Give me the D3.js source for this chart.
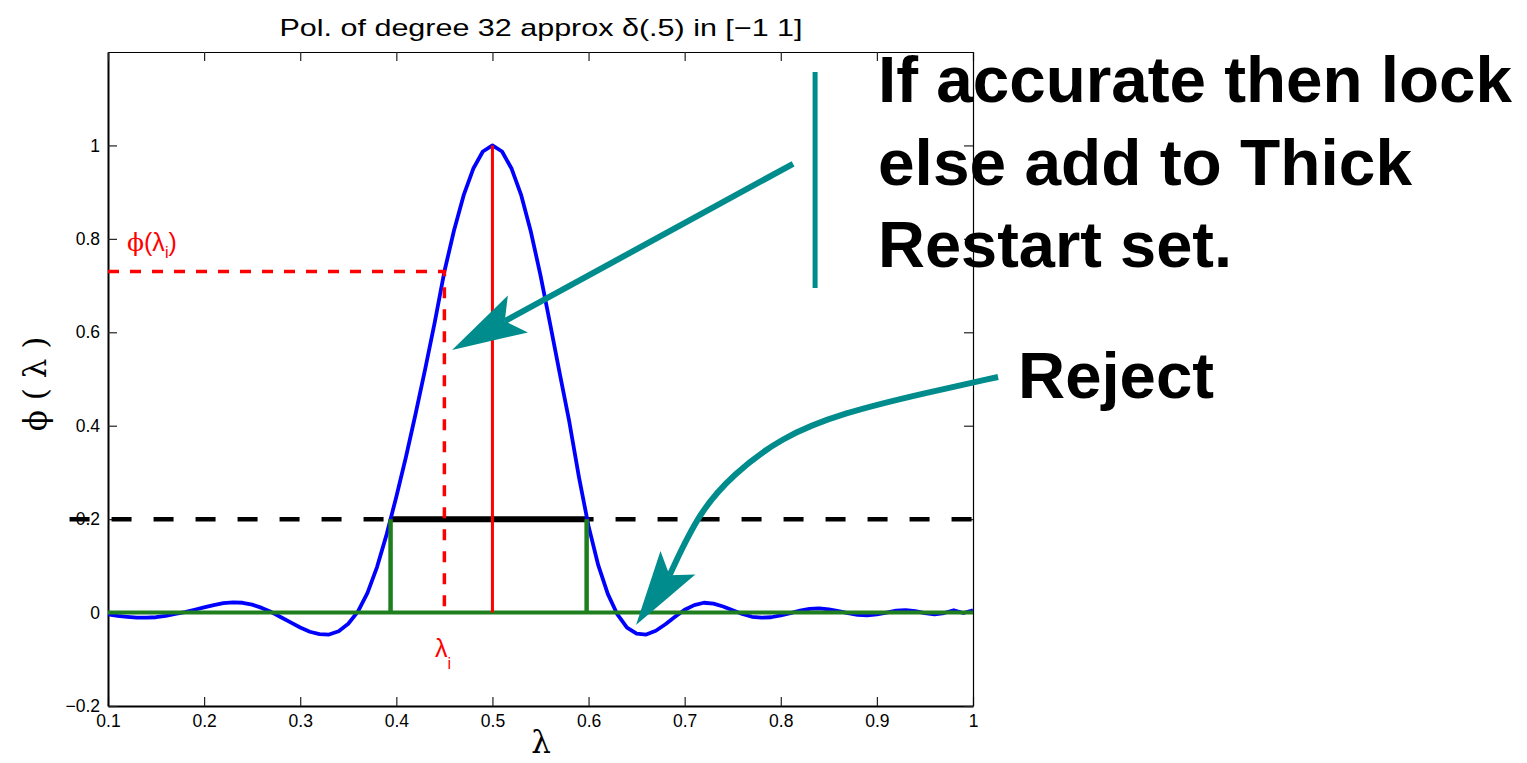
<!DOCTYPE html>
<html>
<head>
<meta charset="utf-8">
<script src="https://cdn.jsdelivr.net/npm/d3@7"></script>
<style>
  html, body { margin: 0; padding: 0; background: #fff; }
  svg { display: block; }
</style>
</head>
<body>
<svg id="chart" width="1527" height="763"></svg>
<script>
// Sample points of the degree-32 polynomial filter phi(lambda)
const lambdas = [0.10,0.11,0.12,0.13,0.14,0.15,0.16,0.17,0.18,0.19,
  0.20,0.21,0.22,0.23,0.24,0.25,0.26,0.27,0.28,0.29,
  0.30,0.31,0.32,0.33,0.34,0.35,0.36,0.37,0.38,0.39,
  0.40,0.41,0.42,0.43,0.44,0.45,0.46,0.47,0.48,0.49,
  0.50,0.51,0.52,0.53,0.54,0.55,0.56,0.57,0.58,0.59,
  0.60,0.61,0.62,0.63,0.64,0.65,0.66,0.67,0.68,0.69,
  0.70,0.71,0.72,0.73,0.74,0.75,0.76,0.77,0.78,0.79,
  0.80,0.81,0.82,0.83,0.84,0.85,0.86,0.87,0.88,0.89,
  0.90,0.91,0.92,0.93,0.94,0.95,0.96,0.97,0.98,0.99,1.00];
const phiValues = [-0.004,-0.007,-0.009,-0.011,-0.011,-0.010,-0.007,-0.003,0.001,0.006,
  0.011,0.016,0.020,0.022,0.021,0.017,0.010,0.001,-0.010,-0.021,
  -0.032,-0.041,-0.046,-0.047,-0.040,-0.024,0.002,0.042,0.098,0.168,
  0.248,0.333,0.425,0.521,0.622,0.730,0.818,0.893,0.950,0.987,
  1.000,0.987,0.950,0.893,0.815,0.722,0.618,0.512,0.408,0.290,
  0.185,0.102,0.040,-0.004,-0.032,-0.045,-0.047,-0.039,-0.025,-0.009,
  0.006,0.016,0.021,0.019,0.013,0.005,-0.003,-0.009,-0.011,-0.010,
  -0.006,-0.001,0.004,0.008,0.009,0.007,0.003,-0.001,-0.005,-0.006,
  -0.004,0.000,0.004,0.005,0.003,-0.001,-0.004,-0.001,0.005,-0.001,0.005];

// Threshold, interval edges, sample eigenvalue
const threshold = 0.2;
const thresholdSpan = [0.06, 1.0];
const intervalEdges = [0.394, 0.598];
const center = 0.5;
const centerPeak = 1.0;
const lambdaI = 0.45;
const phiLambdaI = 0.73;

// Axis ticks
const xTicks = [0.1,0.2,0.3,0.4,0.5,0.6,0.7,0.8,0.9,1];
const yTicks = [-0.2,0,0.2,0.4,0.6,0.8,1];

// Annotation texts
const noteLines = ["If accurate then lock", "else add to Thick", "Restart set."];
const rejectText = "Reject";

const svg = d3.select("#chart");
const x = d3.scaleLinear([0.1, 1], [108, 973]);
const y = d3.scaleLinear([-0.2, 1.2], [706, 52]);

const pts = lambdas.map((l, i) => [l, phiValues[i]]);
const line = d3.line().x(d => x(d[0])).y(d => y(d[1]));

// Axes with inward ticks
const fmt = d => d3.format("")(d);
const axisFont = "Liberation Sans, Arial, sans-serif";
const gB = svg.append("g").attr("transform", `translate(0,${y(-0.2)})`)
  .call(d3.axisBottom(x).tickValues(xTicks).tickFormat(fmt).tickSizeInner(-9).tickSizeOuter(0).tickPadding(9));
const gL = svg.append("g").attr("transform", `translate(${x(0.1)},0)`)
  .call(d3.axisLeft(y).tickValues(yTicks).tickFormat(fmt).tickSizeInner(-9).tickSizeOuter(0).tickPadding(8));
const gT = svg.append("g").attr("transform", `translate(0,${y(1.2)})`)
  .call(d3.axisTop(x).tickValues(xTicks).tickFormat("").tickSizeInner(-9).tickSizeOuter(0));
const gR = svg.append("g").attr("transform", `translate(${x(1)},0)`)
  .call(d3.axisRight(y).tickValues(yTicks).tickFormat("").tickSizeInner(-9).tickSizeOuter(0));
[gB, gL, gT, gR].forEach(g => {
  g.attr("font-size", null).attr("font-family", null);
  g.selectAll("text").attr("font-family", axisFont).attr("font-size", 17.5).attr("fill", "#000");
  g.selectAll(".tick line").attr("stroke", "#222").attr("stroke-width", 1.2);
});
gB.select(".domain").attr("stroke", "#000").attr("stroke-width", 2);
gL.select(".domain").attr("stroke", "#000").attr("stroke-width", 2);
gT.select(".domain").attr("stroke", "#000").attr("stroke-width", 1.2);
gR.select(".domain").attr("stroke", "#000").attr("stroke-width", 1.2);

// Title
svg.append("text").attr("x", 541).attr("y", 36).attr("text-anchor", "middle")
  .attr("font-family", axisFont).attr("font-size", 24).attr("fill", "#000")
  .attr("textLength", 523).attr("lengthAdjust", "spacingAndGlyphs")
  .text("Pol. of degree 32 approx δ(.5) in [−1 1]");

// Axis labels
svg.append("text").attr("x", 541).attr("y", 753).attr("text-anchor", "middle")
  .attr("font-family", "DejaVu Serif, Liberation Serif, serif").attr("font-size", 31)
  .text("λ");
svg.append("text").attr("transform", "translate(46,384) rotate(-90)").attr("text-anchor", "middle")
  .attr("font-family", "DejaVu Serif, Liberation Serif, serif").attr("font-size", 31)
  .attr("xml:space", "preserve").text("ϕ ( λ )");

// Threshold line (dashed) and the thick accepted-interval segment
svg.append("line")
  .attr("x1", x(thresholdSpan[0])).attr("x2", x(thresholdSpan[1]))
  .attr("y1", y(threshold)).attr("y2", y(threshold))
  .attr("stroke", "#000").attr("stroke-width", 4.5).attr("stroke-dasharray", "20,22");
svg.append("line")
  .attr("x1", x(intervalEdges[0])).attr("x2", x(intervalEdges[1]))
  .attr("y1", y(threshold)).attr("y2", y(threshold))
  .attr("stroke", "#000").attr("stroke-width", 6);

// Polynomial curve
svg.append("path").datum(pts).attr("d", line)
  .attr("fill", "none").attr("stroke", "#0000ff").attr("stroke-width", 3.8)
  .attr("stroke-linejoin", "round");

// Zero line and interval edges
const green = "#1f7f1f";
svg.append("line").attr("x1", x(0.1)).attr("x2", x(1)).attr("y1", y(0)).attr("y2", y(0))
  .attr("stroke", green).attr("stroke-width", 4);
svg.selectAll(".edge").data(intervalEdges).join("line")
  .attr("x1", d => x(d)).attr("x2", d => x(d)).attr("y1", y(0)).attr("y2", y(threshold))
  .attr("stroke", green).attr("stroke-width", 4.5);

// Red marks: center and sample eigenvalue
svg.append("line").attr("x1", x(center)).attr("x2", x(center)).attr("y1", y(0)).attr("y2", y(centerPeak))
  .attr("stroke", "#ff0000").attr("stroke-width", 3);
svg.append("path")
  .attr("d", `M${x(0.1)},${y(phiLambdaI)}H${x(lambdaI)}V${y(0)}`)
  .attr("fill", "none").attr("stroke", "#ff0000").attr("stroke-width", 3.5).attr("stroke-dasharray", "11,11");

const redFont = "Liberation Sans, Arial, sans-serif";
const lab1 = svg.append("text").attr("x", 127).attr("y", 251).attr("fill", "#ff0000")
  .attr("font-family", redFont).attr("font-size", 25);
lab1.append("tspan").attr("font-family", "DejaVu Serif, serif").text("ϕ");
lab1.append("tspan").text("(λ");
lab1.append("tspan").attr("dy", 7).attr("font-size", 16).text("i");
lab1.append("tspan").attr("dy", -7).text(")");
const lab2 = svg.append("text").attr("x", 435).attr("y", 657).attr("fill", "#ff0000")
  .attr("font-family", redFont).attr("font-size", 25);
lab2.append("tspan").text("λ");
lab2.append("tspan").attr("dy", 12).attr("font-size", 16).text("i");

// Teal annotations
const teal = "#008c8c";
function arrowHead(tip, from, L = 75, W = 21, notch = 60) {
  const dx = tip[0] - from[0], dy = tip[1] - from[1];
  const n = Math.hypot(dx, dy), ux = dx / n, uy = dy / n;
  const px = -uy, py = ux;
  const b = [tip[0] - ux * L, tip[1] - uy * L];
  const nt = [tip[0] - ux * notch, tip[1] - uy * notch];
  return [tip, [b[0] + px * W, b[1] + py * W], nt, [b[0] - px * W, b[1] - py * W]];
}

// vertical bar beside the text block
svg.append("line").attr("x1", x(0.8357)).attr("x2", x(0.8357))
  .attr("y1", y(1.157)).attr("y2", y(0.695))
  .attr("stroke", teal).attr("stroke-width", 5);

// straight arrow to phi(lambda_i)
const a1Start = [x(0.8128), y(0.9606)], a1Tip = [x(0.458), y(0.5623)];
const h1 = arrowHead(a1Tip, a1Start);
svg.append("line").attr("x1", a1Start[0]).attr("y1", a1Start[1]).attr("x2", h1[2][0]).attr("y2", h1[2][1])
  .attr("stroke", teal).attr("stroke-width", 6);
svg.append("polygon").attr("points", h1.map(p => p.join(",")).join(" ")).attr("fill", teal);

// curved arrow to the rejected region
const a2 = [[1.0261,0.5044],[0.9500,0.4700],[0.8650,0.4280],[0.8000,0.3750],
            [0.7500,0.2950],[0.7150,0.2150],[0.6858,0.0848]];
const a2Tip = [x(0.6494), y(-0.0265)];
const a2Px = a2.map(d => [x(d[0]), y(d[1])]);
const h2 = arrowHead(a2Tip, a2Px[a2Px.length - 1]);
a2Px[a2Px.length - 1] = h2[2];
svg.append("path").attr("d", d3.line().curve(d3.curveBasis)(a2Px))
  .attr("fill", "none").attr("stroke", teal).attr("stroke-width", 6);
svg.append("polygon").attr("points", h2.map(p => p.join(",")).join(" ")).attr("fill", teal);

// Bold annotation text
const noteFont = "Liberation Sans, Arial, sans-serif";
const noteWidths = [634, 534, 354];
noteLines.forEach((t, i) => {
  svg.append("text").attr("x", 878).attr("y", 102 + i * 82.5)
    .attr("font-family", noteFont).attr("font-weight", "bold").attr("font-size", 64)
    .attr("textLength", noteWidths[i]).attr("lengthAdjust", "spacingAndGlyphs")
    .attr("fill", "#000").text(t);
});
svg.append("text").attr("x", 1018).attr("y", 398)
  .attr("font-family", noteFont).attr("font-weight", "bold").attr("font-size", 64)
  .attr("textLength", 196).attr("lengthAdjust", "spacingAndGlyphs")
  .attr("fill", "#000").text(rejectText);
</script>
</body>
</html>
